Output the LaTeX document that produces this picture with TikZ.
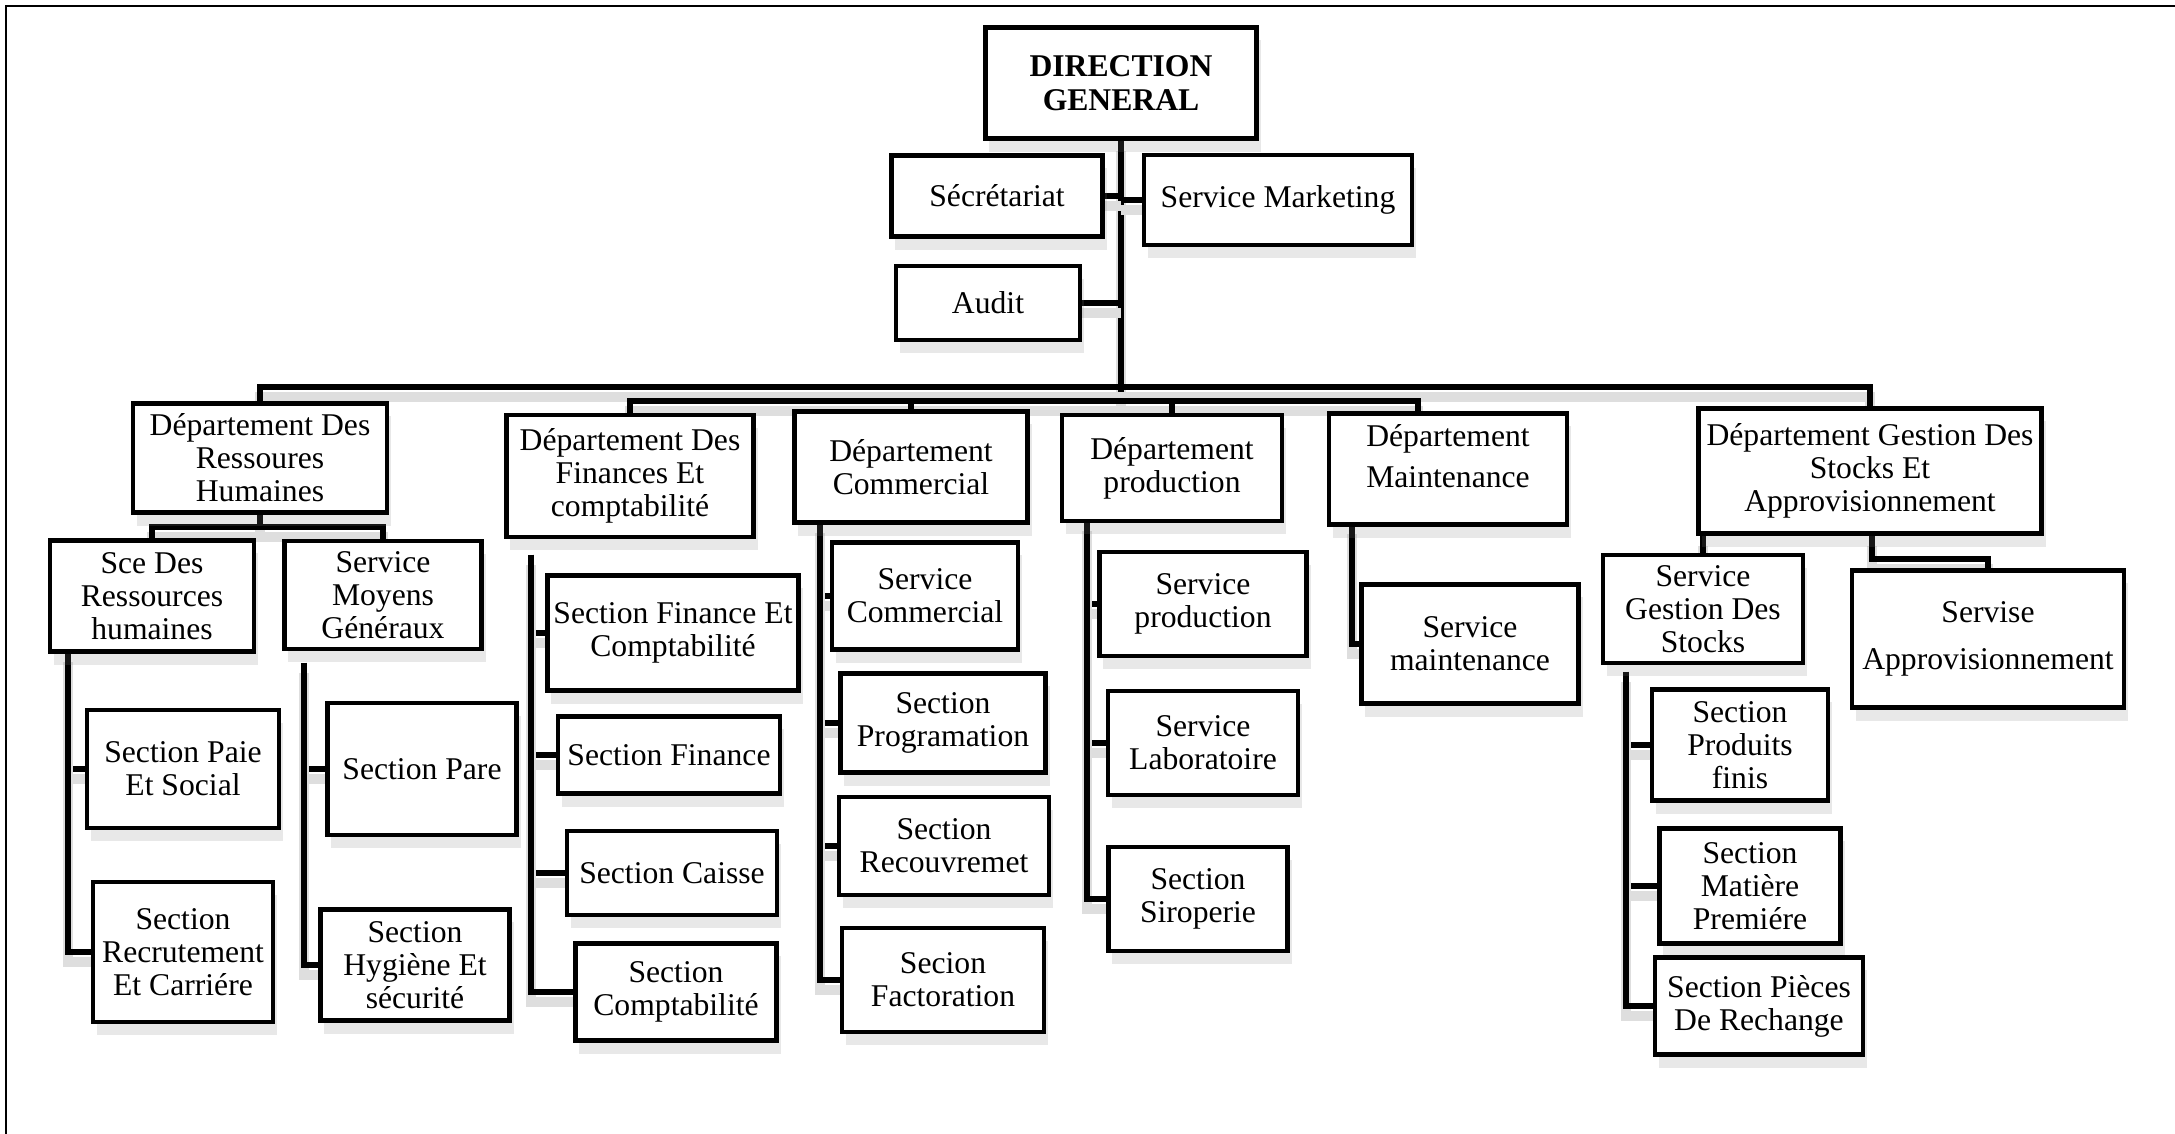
\documentclass[tikz,border=0pt]{standalone}
\usepackage{fontspec}
\setmainfont{Liberation Serif}
\usetikzlibrary{shadows}
\pgfdeclarelayer{background}
\pgfsetlayers{background,main}

\begin{document}
\begin{tikzpicture}[x=0.01cm,y=-0.01cm,
  box/.style={draw,line width=1.3pt,fill=white,align=center,inner sep=1pt,
    font=\fontsize{9}{9.4}\selectfont,
    drop shadow={shadow xshift=0.4mm,shadow yshift=-1.3mm,opacity=0.18}},
  conn/.style={line width=1.5pt,
    preaction={draw=black!13,line width=3pt,transform canvas={yshift=-1mm}}}]
  \useasboundingbox (0,0) rectangle (2175,1134);
  \draw[line width=0.7pt] (6,1134) -- (6,6) -- (2175,6);

  \node[box,font=\bfseries\fontsize{9}{9.8}\selectfont,minimum width=2.71cm,minimum height=1.11cm] (dg) at (1121,83) {DIRECTION\\GENERAL};
  \node[box,minimum width=2.11cm,minimum height=0.81cm] (sec) at (997,196) {Sécrétariat};
  \node[box,minimum width=2.68cm,minimum height=0.90cm] (mkt) at (1278,200) {Service Marketing};
  \node[box,minimum width=1.84cm,minimum height=0.74cm] (aud) at (988,303) {Audit};

  \node[box,minimum width=2.54cm,minimum height=1.09cm] (rh) at (260,458) {Département Des\\Ressoures\\Humaines};
  \node[box,minimum width=2.47cm,minimum height=1.22cm] (fin) at (630,476) {Département Des\\Finances Et\\comptabilité};
  \node[box,minimum width=2.33cm,minimum height=1.11cm] (com) at (911,467) {Département\\Commercial};
  \node[box,minimum width=2.20cm,minimum height=1.06cm] (prd) at (1172,468) {Département\\production};
  \node[box,minimum width=2.38cm,minimum height=1.11cm] (mnt) at (1448,469) {Département\\[2pt]Maintenance\\[-2pt]\mbox{}};
  \node[box,minimum width=3.43cm,minimum height=1.25cm] (stk) at (1870,471) {Département Gestion Des\\Stocks Et\\Approvisionnement};

  \node[box,minimum width=2.04cm,minimum height=1.11cm] (sce) at (152,596) {Sce Des\\Ressources\\humaines};
  \node[box,minimum width=1.97cm,minimum height=1.08cm] (moy) at (383,595) {Service\\Moyens\\Généraux};
  \node[box,minimum width=1.92cm,minimum height=1.18cm] (paie) at (183,769) {Section Paie\\Et Social};
  \node[box,minimum width=1.80cm,minimum height=1.40cm] (rec) at (183,952) {Section\\Recrutement\\Et Carriére};
  \node[box,minimum width=1.89cm,minimum height=1.32cm] (pare) at (422,769) {Section Pare};
  \node[box,minimum width=1.89cm,minimum height=1.11cm] (hyg) at (415,965) {Section\\Hygiène Et\\sécurité};

  \node[box,minimum width=2.51cm,minimum height=1.15cm] (sfc) at (673,633) {Section Finance Et\\Comptabilité};
  \node[box,minimum width=2.22cm,minimum height=0.77cm] (sfi) at (669,755) {Section Finance};
  \node[box,minimum width=2.10cm,minimum height=0.84cm] (cai) at (672,873) {Section Caisse};
  \node[box,minimum width=2.01cm,minimum height=0.97cm] (cpt) at (676,992) {Section\\Comptabilité};

  \node[box,minimum width=1.86cm,minimum height=1.07cm] (scm) at (925,596) {Service\\Commercial};
  \node[box,minimum width=2.05cm,minimum height=0.99cm] (prg) at (943,723) {Section\\Programation};
  \node[box,minimum width=2.10cm,minimum height=0.98cm] (rcv) at (944,846) {Section\\Recouvremet};
  \node[box,minimum width=2.02cm,minimum height=1.04cm] (fac) at (943,980) {Secion\\Factoration};

  \node[box,minimum width=2.07cm,minimum height=1.04cm] (spr) at (1203,604) {Service\\production};
  \node[box,minimum width=1.90cm,minimum height=1.04cm] (lab) at (1203,743) {Service\\Laboratoire};
  \node[box,minimum width=1.79cm,minimum height=1.04cm] (sir) at (1198,899) {Section\\Siroperie};

  \node[box,minimum width=2.17cm,minimum height=1.19cm] (smt) at (1470,644) {Service\\maintenance};

  \node[box,minimum width=2.00cm,minimum height=1.08cm] (gst) at (1703,609) {Service\\Gestion Des\\Stocks};
  \node[box,minimum width=2.72cm,minimum height=1.37cm] (apr) at (1988,639) {Servise\\[4pt]Approvisionnement};
  \node[box,minimum width=1.76cm,minimum height=1.11cm] (pfi) at (1740,745) {Section\\Produits\\finis};
  \node[box,minimum width=1.81cm,minimum height=1.15cm] (mat) at (1750,886) {Section\\Matière\\Premiére};
  \node[box,minimum width=2.08cm,minimum height=0.97cm] (pie) at (1759,1006) {Section Pièces\\De Rechange};

  \coordinate (bt) at (1121,387);
  \coordinate (bs) at (1121,401);
  \coordinate (rhb) at (260,527);
  \coordinate (ap) at (1872,559);
  \coordinate (s1) at (68,652);
  \coordinate (s2) at (304,663);
  \coordinate (s3) at (531,555);
  \coordinate (s4) at (820,523);
  \coordinate (s5) at (1087,521);
  \coordinate (s6) at (1352,524);
  \coordinate (s7) at (1626,672);

  \begin{pgfonlayer}{background}
    \draw[conn] (dg.south) -- (bs);
    \draw[conn] (sec.east) -- (sec.east -| bs);
    \draw[conn] (mkt.west) -- (mkt.west -| bs);
    \draw[conn] (aud.east) -- (aud.east -| bs);
    \draw[conn] (rh.north) |- (bt) -| (stk.north);
    \draw[conn] (fin.north) |- (bs) -| ([xshift=-0.3cm]mnt.north);
    \draw[conn] (com.north) -- (com.north |- bs);
    \draw[conn] (prd.north) -- (prd.north |- bs);
    \draw[conn] (rh.south) -- (rhb);
    \draw[conn] (sce.north) |- (rhb) -| (moy.north);
    \draw[conn] (s1) |- (paie.west);
    \draw[conn] (s1) |- (rec.west);
    \draw[conn] (s2) |- (pare.west);
    \draw[conn] (s2) |- (hyg.west);
    \draw[conn] (s3) |- (sfc.west);
    \draw[conn] (s3) |- (sfi.west);
    \draw[conn] (s3) |- (cai.west);
    \draw[conn] (s3) |- (cpt.west);
    \draw[conn] (s4) |- (scm.west);
    \draw[conn] (s4) |- (prg.west);
    \draw[conn] (s4) |- (rcv.west);
    \draw[conn] (s4) |- (fac.west);
    \draw[conn] (s5) |- (spr.west);
    \draw[conn] (s5) |- (lab.west);
    \draw[conn] (s5) |- (sir.west);
    \draw[conn] (s6) |- (smt.west);
    \draw[conn] (gst.north |- stk.south) -- (gst.north);
    \draw[conn] (ap |- stk.south) -- (ap) -| (apr.north);
    \draw[conn] (s7) |- (pfi.west);
    \draw[conn] (s7) |- (mat.west);
    \draw[conn] (s7) |- (pie.west);
  \end{pgfonlayer}
\end{tikzpicture}
\end{document}
